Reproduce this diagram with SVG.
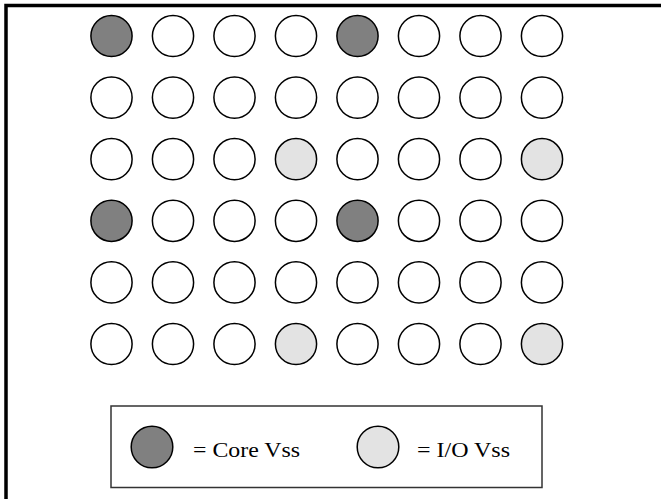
<svg xmlns="http://www.w3.org/2000/svg" width="661" height="499" viewBox="0 0 661 499">
<style>
.pin{stroke:#000;stroke-width:1.5}
.n{fill:#fff}
.c{fill:#808080}
.i{fill:#e3e3e3}
.lbl{font-family:"Liberation Serif","Times New Roman",serif;font-size:21px;fill:#000}
</style>
<rect width="661" height="499" fill="#fff"/>
<path d="M6 499 V5.5 H661" fill="none" stroke="#000" stroke-width="3.5"/>
<g id="pins">
<g id="row1">
<circle class="pin c" cx="111.5" cy="36" r="20.6"/>
<circle class="pin n" cx="173" cy="36" r="20.6"/>
<circle class="pin n" cx="234.5" cy="36" r="20.6"/>
<circle class="pin n" cx="296" cy="36" r="20.6"/>
<circle class="pin c" cx="357.5" cy="36" r="20.6"/>
<circle class="pin n" cx="419" cy="36" r="20.6"/>
<circle class="pin n" cx="480.5" cy="36" r="20.6"/>
<circle class="pin n" cx="542" cy="36" r="20.6"/>
</g>
<g id="row2">
<circle class="pin n" cx="111.5" cy="97.6" r="20.6"/>
<circle class="pin n" cx="173" cy="97.6" r="20.6"/>
<circle class="pin n" cx="234.5" cy="97.6" r="20.6"/>
<circle class="pin n" cx="296" cy="97.6" r="20.6"/>
<circle class="pin n" cx="357.5" cy="97.6" r="20.6"/>
<circle class="pin n" cx="419" cy="97.6" r="20.6"/>
<circle class="pin n" cx="480.5" cy="97.6" r="20.6"/>
<circle class="pin n" cx="542" cy="97.6" r="20.6"/>
</g>
<g id="row3">
<circle class="pin n" cx="111.5" cy="159.2" r="20.6"/>
<circle class="pin n" cx="173" cy="159.2" r="20.6"/>
<circle class="pin n" cx="234.5" cy="159.2" r="20.6"/>
<circle class="pin i" cx="296" cy="159.2" r="20.6"/>
<circle class="pin n" cx="357.5" cy="159.2" r="20.6"/>
<circle class="pin n" cx="419" cy="159.2" r="20.6"/>
<circle class="pin n" cx="480.5" cy="159.2" r="20.6"/>
<circle class="pin i" cx="542" cy="159.2" r="20.6"/>
</g>
<g id="row4">
<circle class="pin c" cx="111.5" cy="220.8" r="20.6"/>
<circle class="pin n" cx="173" cy="220.8" r="20.6"/>
<circle class="pin n" cx="234.5" cy="220.8" r="20.6"/>
<circle class="pin n" cx="296" cy="220.8" r="20.6"/>
<circle class="pin c" cx="357.5" cy="220.8" r="20.6"/>
<circle class="pin n" cx="419" cy="220.8" r="20.6"/>
<circle class="pin n" cx="480.5" cy="220.8" r="20.6"/>
<circle class="pin n" cx="542" cy="220.8" r="20.6"/>
</g>
<g id="row5">
<circle class="pin n" cx="111.5" cy="282.4" r="20.6"/>
<circle class="pin n" cx="173" cy="282.4" r="20.6"/>
<circle class="pin n" cx="234.5" cy="282.4" r="20.6"/>
<circle class="pin n" cx="296" cy="282.4" r="20.6"/>
<circle class="pin n" cx="357.5" cy="282.4" r="20.6"/>
<circle class="pin n" cx="419" cy="282.4" r="20.6"/>
<circle class="pin n" cx="480.5" cy="282.4" r="20.6"/>
<circle class="pin n" cx="542" cy="282.4" r="20.6"/>
</g>
<g id="row6">
<circle class="pin n" cx="111.5" cy="344" r="20.6"/>
<circle class="pin n" cx="173" cy="344" r="20.6"/>
<circle class="pin n" cx="234.5" cy="344" r="20.6"/>
<circle class="pin i" cx="296" cy="344" r="20.6"/>
<circle class="pin n" cx="357.5" cy="344" r="20.6"/>
<circle class="pin n" cx="419" cy="344" r="20.6"/>
<circle class="pin n" cx="480.5" cy="344" r="20.6"/>
<circle class="pin i" cx="542" cy="344" r="20.6"/>
</g>
</g>
<g id="legend">
<rect x="111" y="406" width="431" height="81.5" fill="#fff" stroke="#333" stroke-width="1.5"/>
<circle class="pin c" cx="152" cy="447" r="20.8"/>
<text class="lbl" x="193" y="457.3" textLength="107" lengthAdjust="spacingAndGlyphs">= Core Vss</text>
<circle class="pin i" cx="378" cy="447" r="20.8"/>
<text class="lbl" x="417" y="457.3" textLength="93" lengthAdjust="spacingAndGlyphs">= I/O Vss</text>
</g>
<g id="connectors"/>
</svg>
